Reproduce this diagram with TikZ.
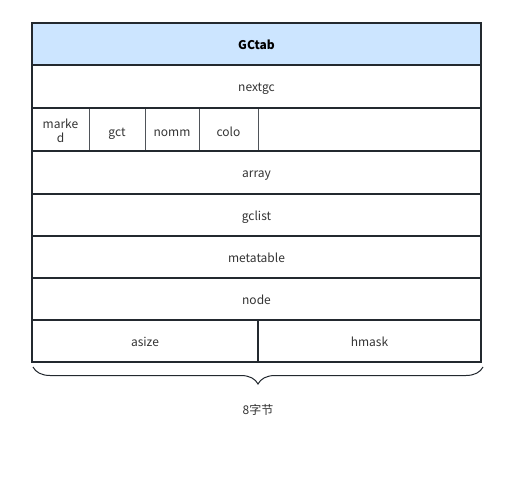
\documentclass[tikz,border=0pt]{standalone}
\usepackage{fontspec}
\setmainfont{Noto Sans CJK SC}
\usetikzlibrary{decorations.pathreplacing}
\definecolor{headblue}{HTML}{CCE5FF}
\definecolor{linegray}{HTML}{23292F}
\definecolor{textgray}{HTML}{333333}

\begin{document}
\begin{tikzpicture}[x=1pt, y=-1pt,
    every node/.style={rectangle, inner sep=0pt, font=\fontsize{12}{14}\selectfont, text=textgray},
    row/.style={draw=linegray, line width=1.6pt, minimum height=42pt, text height=11pt, text depth=0pt},
    field/.style={minimum height=20pt},
    divider/.style={draw=linegray!80, line width=1pt}]
    \useasboundingbox (0,0) rectangle (506,500);

    % small fields of the third row
    \node[field, align=center] (marked) at (60.5,131) {marke\\d};
    \node[field, text height=11pt, text depth=0pt] (gct) at (117,131) {gct};
    \node[field, text height=11pt, text depth=0pt] (nomm) at (172,131) {nomm};
    \node[field, text height=11pt, text depth=0pt] (colo) at (228.5,131) {colo};

    \draw[divider] (89,108) -- (89,151);
    \draw[divider] (145,108) -- (145,151);
    \draw[divider] (199,108) -- (199,151);
    \draw[divider] (258,108) -- (258,151);

    \node[row, fill=headblue, minimum width=449pt, text=black, font=\fontsize{12}{14}\selectfont\bfseries] (gctab) at (256.5,44) {GCtab};
    \node[row, minimum width=449pt] (nextgc) at (256.5,86.5) {nextgc};
    \node[row, minimum width=449pt, minimum height=43pt] (flags) at (256.5,129.5) {};
    \node[row, minimum width=449pt] (array) at (256.5,172.5) {array};
    \node[row, minimum width=449pt] (gclist) at (256.5,215) {gclist};
    \node[row, minimum width=449pt] (metatable) at (256.5,257) {metatable};
    \node[row, minimum width=449pt] (node) at (256.5,299) {node};
    \node[row, minimum width=226pt] (asize) at (145,341) {asize};
    \node[row, minimum width=223pt] (hmask) at (369.5,341) {hmask};

    % brace under the table
    \coordinate (bl) at (33,367);
    \coordinate (br) at (483,367);
    \draw[linegray, line width=1pt, decorate, decoration={brace, mirror, amplitude=17pt}] (bl) -- (br);
    \node[text height=11pt, text depth=0pt] (bytes) at (258,409) {8字节};
\end{tikzpicture}
\end{document}
